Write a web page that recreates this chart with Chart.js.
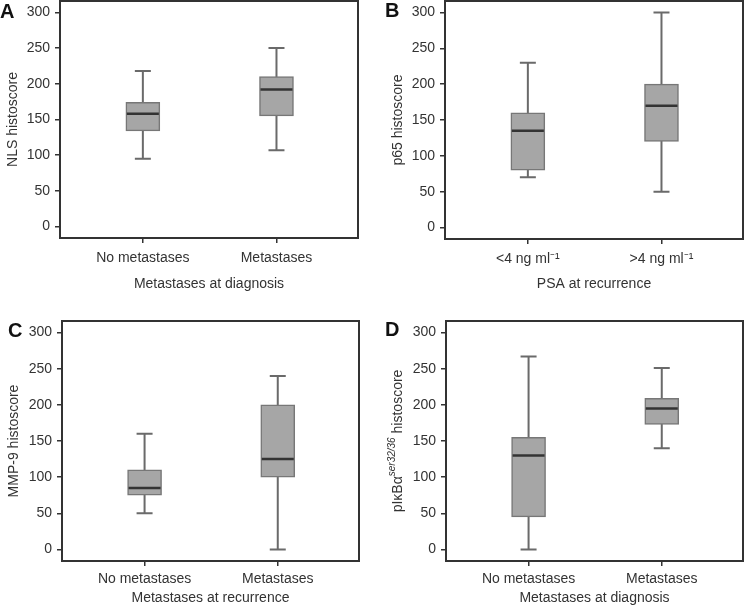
<!DOCTYPE html>
<html>
<head>
<meta charset="utf-8">
<script src="https://cdn.jsdelivr.net/npm/chart.js@4.4.0/dist/chart.umd.min.js"></script>
<style>
  html, body { margin: 0; padding: 0; background: #fff; }
  #wrap { position: relative; width: 744px; height: 607px; overflow: hidden; }
  canvas { position: absolute; }
</style>
</head>
<body>
<div id="wrap">
  <canvas id="chartA" width="372" height="300" style="left:0;top:0"></canvas>
  <canvas id="chartB" width="372" height="300" style="left:372px;top:0"></canvas>
  <canvas id="chartC" width="372" height="307" style="left:0;top:300px"></canvas>
  <canvas id="chartD" width="372" height="307" style="left:372px;top:300px"></canvas>
</div>
<script>
const yTicks = [0, 50, 100, 150, 200, 250, 300];
const metCategories = ['No metastases', 'Metastases'];
const psaCategories = ['<4 ng ml\u207B\u00B9', '>4 ng ml\u207B\u00B9'];

// A: NLS
const nlsMin = [95, 107];
const nlsQ1 = [134, 155];
const nlsMedian = [158, 192];
const nlsQ3 = [174, 210];
const nlsMax = [218, 250];

// B: p65
const p65Min = [70, 50];
const p65Q1 = [80, 120];
const p65Median = [135, 170];
const p65Q3 = [160, 200];
const p65Max = [230, 300];

// C: MMP-9
const mmpMin = [50, 0];
const mmpQ1 = [75, 100];
const mmpMedian = [85, 125];
const mmpQ3 = [110, 200];
const mmpMax = [160, 240];

// D: pIkBa
const ikbMin = [0, 140];
const ikbQ1 = [45, 173];
const ikbMedian = [130, 195];
const ikbQ3 = [155, 209];
const ikbMax = [267, 251];

const family = "'Liberation Sans', Arial, Helvetica, sans-serif";
const textColor = '#333';
const font = { family: family, size: 14 };

const boxPlot = (stats) => ({
  id: 'boxPlot',
  beforeDatasetsDraw(chart) {
    const { ctx, scales: { x, y } } = chart;
    ctx.save();
    ctx.strokeStyle = '#6a6a6a';
    ctx.lineWidth = 2;
    stats.min.forEach((lo, i) => {
      const px = x.getPixelForValue(i + 1);
      const yLo = y.getPixelForValue(lo);
      const yHi = y.getPixelForValue(stats.max[i]);
      ctx.beginPath();
      ctx.moveTo(px, yLo);
      ctx.lineTo(px, yHi);
      ctx.moveTo(px - 8, yLo);
      ctx.lineTo(px + 8, yLo);
      ctx.moveTo(px - 8, yHi);
      ctx.lineTo(px + 8, yHi);
      ctx.stroke();
    });
    ctx.restore();
  },
  afterDatasetsDraw(chart) {
    const { ctx, scales: { x, y } } = chart;
    ctx.save();
    ctx.strokeStyle = '#333';
    ctx.lineWidth = 2.5;
    stats.median.forEach((m, i) => {
      const px = x.getPixelForValue(i + 1);
      const py = y.getPixelForValue(m);
      ctx.beginPath();
      ctx.moveTo(px - 16, py);
      ctx.lineTo(px + 16, py);
      ctx.stroke();
    });
    ctx.restore();
  }
});

const frame = {
  id: 'frame',
  afterDraw(chart) {
    const { ctx, chartArea: a } = chart;
    ctx.save();
    ctx.strokeStyle = '#333';
    ctx.lineWidth = 2;
    ctx.strokeRect(a.left, a.top, a.right - a.left, a.bottom - a.top);
    ctx.restore();
  }
};

const panelLetter = (letter, lx, ly) => ({
  id: 'panelLetter',
  afterDraw(chart) {
    const { ctx } = chart;
    ctx.save();
    ctx.font = 'bold 20px ' + family;
    ctx.fillStyle = '#111';
    ctx.textBaseline = 'alphabetic';
    ctx.fillText(letter, lx, ly);
    ctx.restore();
  }
});

const ikbTitle = {
  id: 'ikbTitle',
  afterDraw(chart) {
    const { ctx, chartArea } = chart;
    const parts = [
      { text: 'pI\u03BAB\u03B1', font: '14px ' + family, dy: 0 },
      { text: 'ser32/36', font: 'italic 10px ' + family, dy: -6 },
      { text: ' histoscore', font: '14px ' + family, dy: 0 }
    ];
    ctx.save();
    let total = 0;
    parts.forEach(p => {
      ctx.font = p.font;
      p.w = ctx.measureText(p.text).width;
      total += p.w;
    });
    ctx.translate(26, (chartArea.top + chartArea.bottom) / 2);
    ctx.rotate(-Math.PI / 2);
    ctx.fillStyle = textColor;
    ctx.textBaseline = 'middle';
    let xx = -total / 2;
    parts.forEach(p => {
      ctx.font = p.font;
      ctx.fillText(p.text, xx, p.dy);
      xx += p.w;
    });
    ctx.restore();
  }
};

function buildPanel(id, cfg) {
  const canvas = document.getElementById(id);
  const W = canvas.width;
  const H = canvas.height;
  const area = cfg.area;
  const extra = [boxPlot(cfg.stats), frame, panelLetter(cfg.letter, cfg.letterX, cfg.letterY)];
  if (cfg.customYTitle) extra.push(cfg.customYTitle);

  return new Chart(canvas, {
    type: 'bar',
    data: {
      datasets: [{
        data: cfg.stats.q1.map((lo, i) => ({ x: i + 1, y: [lo, cfg.stats.q3[i]] })),
        backgroundColor: '#a6a6a6',
        borderColor: '#777',
        borderWidth: 1.5,
        borderSkipped: false,
        barThickness: 34
      }]
    },
    options: {
      responsive: false,
      animation: false,
      events: [],
      layout: { padding: { top: area.top, right: W - area.right, left: 0, bottom: 0 } },
      plugins: {
        legend: { display: false },
        tooltip: { enabled: false }
      },
      scales: {
        x: {
          type: 'linear',
          min: 0.38,
          max: 2.61,
          offset: false,
          afterBuildTicks: s => { s.ticks = cfg.categories.map((c, i) => ({ value: i + 1 })); },
          afterFit: s => {
            s.height = H - area.bottom;
            s.paddingLeft = 0;
            s.paddingRight = 0;
          },
          border: { display: false },
          grid: { drawOnChartArea: false, tickLength: 5, color: '#333', lineWidth: 1.5, offset: false },
          ticks: {
            padding: cfg.xPad,
            color: textColor,
            font: font,
            maxRotation: 0,
            autoSkip: false,
            callback: v => cfg.categories[v - 1]
          },
          title: {
            display: true,
            text: cfg.xTitle,
            color: textColor,
            font: font,
            padding: { top: 0, bottom: cfg.xTitlePad }
          }
        },
        y: {
          min: -16,
          max: 316,
          afterBuildTicks: s => { s.ticks = yTicks.map(v => ({ value: v })); },
          afterFit: s => {
            s.width = area.left;
            s.paddingTop = 0;
            s.paddingBottom = 0;
          },
          border: { display: false },
          grid: { drawOnChartArea: false, tickLength: 5, color: '#333', lineWidth: 1.5 },
          ticks: { padding: 5, color: textColor, font: font },
          title: {
            display: !!cfg.yTitle,
            text: cfg.yTitle || '',
            color: textColor,
            font: font,
            padding: { top: cfg.yTitlePad, bottom: 0 }
          }
        }
      }
    },
    plugins: extra
  });
}

buildPanel('chartA', {
  letter: 'A', letterX: 0, letterY: 18,
  area: { left: 60, top: 1, right: 358, bottom: 238 },
  categories: metCategories,
  stats: { min: nlsMin, q1: nlsQ1, median: nlsMedian, q3: nlsQ3, max: nlsMax },
  xTitle: 'Metastases at diagnosis', xPad: 7, xTitlePad: 7,
  yTitle: 'NLS histoscore', yTitlePad: 4.5
});

buildPanel('chartB', {
  letter: 'B', letterX: 13, letterY: 17,
  area: { left: 73, top: 1, right: 371, bottom: 239 },
  categories: psaCategories,
  stats: { min: p65Min, q1: p65Q1, median: p65Median, q3: p65Q3, max: p65Max },
  xTitle: 'PSA at recurrence', xPad: 7, xTitlePad: 7,
  yTitle: 'p65 histoscore', yTitlePad: 17.5
});

buildPanel('chartC', {
  letter: 'C', letterX: 8, letterY: 37,
  area: { left: 62, top: 21, right: 359, bottom: 261 },
  categories: metCategories,
  stats: { min: mmpMin, q1: mmpQ1, median: mmpMedian, q3: mmpQ3, max: mmpMax },
  xTitle: 'Metastases at recurrence', xPad: 5, xTitlePad: 0,
  yTitle: 'MMP-9 histoscore', yTitlePad: 5.5
});

buildPanel('chartD', {
  letter: 'D', letterX: 13, letterY: 36,
  area: { left: 74, top: 21, right: 371, bottom: 261 },
  categories: metCategories,
  stats: { min: ikbMin, q1: ikbQ1, median: ikbMedian, q3: ikbQ3, max: ikbMax },
  xTitle: 'Metastases at diagnosis', xPad: 5, xTitlePad: 0,
  yTitle: null, customYTitle: ikbTitle
});
</script>
</body>
</html>
